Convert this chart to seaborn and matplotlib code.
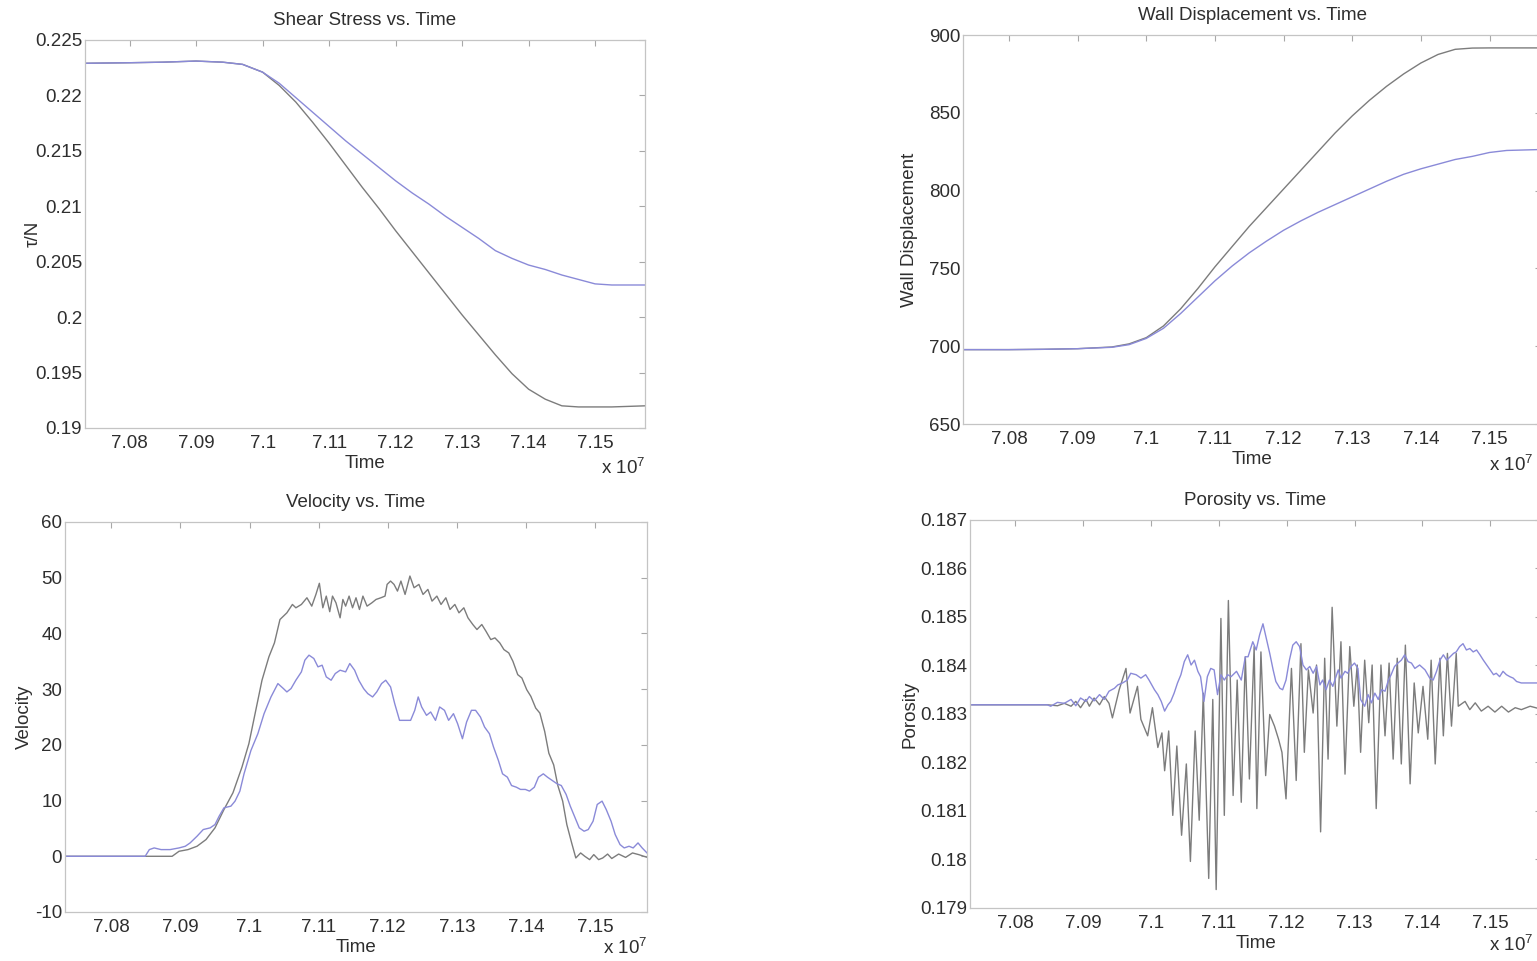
import matplotlib
matplotlib.use("Agg")
import matplotlib.pyplot as plt
import seaborn as sns
from matplotlib.ticker import FixedLocator, FuncFormatter

# ---------------------------------------------------------------
# Time axis values are given in units of 1e7 (as on the tick labels)
# Two simulation runs per quantity: case 1 (gray), case 2 (blue)
# ---------------------------------------------------------------

shear_time = [7.0733, 7.080, 7.085, 7.090, 7.094, 7.097, 7.100, 7.1025, 7.105,
              7.1075, 7.110, 7.1125, 7.115, 7.1175, 7.120, 7.1225, 7.125, 7.1275,
              7.130, 7.1325, 7.135, 7.1375, 7.140, 7.1425, 7.145, 7.1475, 7.150,
              7.1525, 7.1575]
shear_case1 = [0.2229, 0.22295, 0.2230, 0.2231, 0.2230, 0.2228, 0.2221, 0.2209,
               0.2194, 0.2176, 0.2157, 0.2137, 0.2117, 0.2098, 0.2078, 0.2059,
               0.2040, 0.2021, 0.2002, 0.1984, 0.1966, 0.1949, 0.1935, 0.1926,
               0.1920, 0.1919, 0.1919, 0.1919, 0.1920]
shear_case2 = [0.2229, 0.22295, 0.2230, 0.2231, 0.2230, 0.2228, 0.2221, 0.2211,
               0.2198, 0.2185, 0.2172, 0.2159, 0.2147, 0.2135, 0.2123, 0.2112,
               0.2102, 0.2091, 0.2081, 0.2071, 0.2060, 0.2053, 0.2047, 0.2043,
               0.2038, 0.2034, 0.2030, 0.2029, 0.2029]

wall_time = [7.0733, 7.080, 7.085, 7.090, 7.095, 7.0975, 7.100, 7.1025, 7.105,
             7.1075, 7.110, 7.1125, 7.115, 7.1175, 7.120, 7.1225, 7.125, 7.1275,
             7.130, 7.1325, 7.135, 7.1375, 7.140, 7.1425, 7.145, 7.1475, 7.150,
             7.1525, 7.1575]
wall_case1 = [697.8, 697.8, 698.0, 698.4, 699.5, 701.5, 705.5, 713.0, 724.0,
              737.0, 751.0, 764.0, 777.0, 789.0, 801.0, 813.0, 825.0, 837.0,
              848.0, 858.0, 867.0, 875.0, 882.0, 887.5, 890.8, 891.6, 891.7,
              891.7, 891.7]
wall_case2 = [697.8, 697.8, 698.0, 698.4, 699.3, 701.0, 705.0, 711.5, 721.0,
              731.5, 742.0, 751.5, 760.0, 767.5, 774.5, 780.5, 786.0, 791.0,
              796.0, 801.0, 806.0, 810.5, 814.0, 817.0, 820.0, 822.0, 824.5,
              825.8, 826.4]

vel_time_case1 = [7.0732, 7.0888, 7.0898, 7.0911, 7.0924, 7.0937, 7.0950, 7.0963,
                  7.0976, 7.0989, 7.0999, 7.1008, 7.1018, 7.1028, 7.1036, 7.1044,
                  7.1054, 7.1062, 7.1067, 7.1075, 7.1083, 7.1090, 7.1096, 7.1101,
                  7.1106, 7.1111, 7.1116, 7.1120, 7.1125, 7.1131, 7.1135, 7.1139,
                  7.1144, 7.1149, 7.1154, 7.1159, 7.1164, 7.1170, 7.1177, 7.1183,
                  7.1190, 7.1196, 7.1199, 7.1204, 7.1209, 7.1214, 7.1219, 7.1225,
                  7.1232, 7.1238, 7.1245, 7.1251, 7.1258, 7.1264, 7.1271, 7.1277,
                  7.1284, 7.1290, 7.1297, 7.1303, 7.1310, 7.1316, 7.1323, 7.1329,
                  7.1336, 7.1342, 7.1349, 7.1355, 7.1362, 7.1368, 7.1375, 7.1381,
                  7.1388, 7.1394, 7.1401, 7.1407, 7.1414, 7.1420, 7.1427, 7.1433,
                  7.1440, 7.1446, 7.1453, 7.1459, 7.1466, 7.1472, 7.1479, 7.1485,
                  7.1492, 7.1498, 7.1505, 7.1511, 7.1518, 7.1524, 7.1534, 7.1544,
                  7.1554, 7.1563, 7.1578]
vel_case1 = [0.0, 0.0, 0.9, 1.2, 1.8, 3.0, 5.1, 8.4,
             11.4, 16.0, 20.2, 25.6, 31.6, 35.8, 38.3, 42.5,
             43.7, 45.2, 44.6, 45.2, 46.4, 44.9, 47.0, 49.0,
             44.6, 46.7, 43.9, 46.7, 45.5, 42.8, 46.1, 44.9,
             46.7, 44.6, 46.4, 44.3, 46.7, 44.9, 45.5, 46.1,
             46.4, 46.7, 48.8, 49.4, 48.8, 47.6, 49.4, 47.0,
             50.3, 48.2, 48.8, 47.0, 47.9, 45.8, 46.7, 45.2,
             46.4, 44.3, 45.2, 43.7, 44.6, 42.8, 41.6, 40.7,
             41.6, 40.4, 38.9, 39.2, 38.3, 37.1, 36.5, 35.0,
             32.6, 32.0, 29.9, 28.7, 26.6, 25.7, 22.4, 18.5,
             16.4, 12.7, 9.9, 5.7, 2.4, -0.3, 0.6, 0.0,
             -0.6, 0.3, -0.6, -0.3, 0.4, -0.4, 0.4, -0.2,
             0.6, 0.3, -0.3]

vel_time_case2 = [7.0732, 7.0849, 7.0855, 7.0862, 7.0872, 7.0885, 7.0898, 7.0907,
                  7.0914, 7.0924, 7.0933, 7.0943, 7.0950, 7.0956, 7.0963, 7.0973,
                  7.0979, 7.0986, 7.0992, 7.1002, 7.1012, 7.1021, 7.1031, 7.1041,
                  7.1049, 7.1054, 7.1060, 7.1067, 7.1075, 7.1080, 7.1086, 7.1093,
                  7.1099, 7.1105, 7.1111, 7.1118, 7.1124, 7.1131, 7.1139, 7.1145,
                  7.1152, 7.1158, 7.1165, 7.1171, 7.1178, 7.1184, 7.1191, 7.1197,
                  7.1204, 7.1210, 7.1217, 7.1226, 7.1233, 7.1239, 7.1244, 7.1249,
                  7.1256, 7.1262, 7.1269, 7.1275, 7.1282, 7.1288, 7.1295, 7.1301,
                  7.1308, 7.1314, 7.1321, 7.1327, 7.1334, 7.1340, 7.1347, 7.1353,
                  7.1360, 7.1366, 7.1373, 7.1379, 7.1386, 7.1392, 7.1399, 7.1405,
                  7.1412, 7.1418, 7.1425, 7.1431, 7.1438, 7.1445, 7.1451, 7.1458,
                  7.1464, 7.1471, 7.1477, 7.1484, 7.1490, 7.1497, 7.1503, 7.1510,
                  7.1516, 7.1523, 7.1529, 7.1536, 7.1542, 7.1549, 7.1555, 7.1562,
                  7.1568, 7.1575, 7.1580]
vel_case2 = [0.0, 0.0, 1.2, 1.5, 1.2, 1.2, 1.5, 1.8,
             2.4, 3.6, 4.8, 5.1, 5.7, 7.2, 8.7, 9.0,
             9.9, 11.7, 14.8, 19.0, 22.0, 25.6, 28.6, 31.0,
             30.1, 29.5, 30.1, 31.6, 33.1, 35.2, 36.1, 35.5,
             34.0, 34.3, 32.2, 31.6, 32.8, 33.4, 33.1, 34.6,
             33.4, 31.6, 30.1, 29.2, 28.6, 29.5, 31.0, 31.6,
             30.4, 27.4, 24.4, 24.4, 24.4, 26.2, 28.6, 26.8,
             25.3, 25.9, 24.4, 26.8, 26.2, 24.4, 25.6, 23.8,
             21.1, 24.1, 26.2, 26.2, 25.0, 23.2, 22.0, 19.6,
             17.2, 14.8, 14.2, 12.7, 12.4, 12.0, 12.0, 11.7,
             12.4, 14.2, 14.8, 14.2, 13.6, 13.0, 12.7, 11.1,
             9.0, 6.9, 5.1, 4.5, 4.8, 6.3, 9.3, 9.9,
             8.4, 6.3, 3.9, 2.1, 1.5, 1.8, 1.5, 2.4,
             1.5, 0.6, 0.0]

por_time_case1 = [7.0732, 7.0847, 7.0862, 7.0872, 7.0882, 7.0889, 7.0896, 7.0904,
                  7.0909, 7.0916, 7.0924, 7.0931, 7.0938, 7.0943, 7.0953, 7.0963,
                  7.0969, 7.0980, 7.0985, 7.0995, 7.1002, 7.1010, 7.1016, 7.1020,
                  7.1026, 7.1032, 7.1038, 7.1045, 7.1052, 7.1058, 7.1065, 7.1071,
                  7.1077, 7.1085, 7.1091, 7.1096, 7.1103, 7.1108, 7.1114, 7.1121,
                  7.1127, 7.1133, 7.1139, 7.1145, 7.1152, 7.1156, 7.1162, 7.1169,
                  7.1175, 7.1182, 7.1188, 7.1193, 7.1199, 7.1207, 7.1214, 7.1221,
                  7.1226, 7.1232, 7.1239, 7.1244, 7.1250, 7.1256, 7.1261, 7.1267,
                  7.1274, 7.1280, 7.1286, 7.1293, 7.1299, 7.1304, 7.1309, 7.1315,
                  7.1321, 7.1326, 7.1332, 7.1339, 7.1345, 7.1351, 7.1357, 7.1363,
                  7.1369, 7.1375, 7.1382, 7.1388, 7.1394, 7.1401, 7.1408, 7.1413,
                  7.1419, 7.1426, 7.1431, 7.1437, 7.1443, 7.1450, 7.1453, 7.1463,
                  7.1470, 7.1478, 7.1487, 7.1497, 7.1507, 7.1517, 7.1527, 7.1537,
                  7.1546, 7.1559, 7.1575]
por_case1 = [0.18319, 0.18319, 0.18317, 0.18322, 0.18316, 0.18326, 0.18313, 0.18330,
             0.18316, 0.18333, 0.18319, 0.18336, 0.18322, 0.18292, 0.18350, 0.18394,
             0.18302, 0.18357, 0.18289, 0.18255, 0.18313, 0.18231, 0.18261, 0.18183,
             0.18265, 0.18091, 0.18234, 0.18050, 0.18197, 0.17996, 0.18265, 0.18081,
             0.18343, 0.17961, 0.18330, 0.17938, 0.18497, 0.18091, 0.18534, 0.18132,
             0.18370, 0.18118, 0.18418, 0.18166, 0.18439, 0.18105, 0.18428, 0.18173,
             0.18299, 0.18275, 0.18248, 0.18221, 0.18125, 0.18394, 0.18163, 0.18445,
             0.18221, 0.18391, 0.18302, 0.18401, 0.18057, 0.18415, 0.18207, 0.18520,
             0.18275, 0.18449, 0.18176, 0.18439, 0.18316, 0.18401, 0.18221, 0.18411,
             0.18282, 0.18401, 0.18105, 0.18401, 0.18255, 0.18405, 0.18207, 0.18415,
             0.18197, 0.18442, 0.18156, 0.18364, 0.18261, 0.18357, 0.18248, 0.18411,
             0.18197, 0.18415, 0.18255, 0.18425, 0.18275, 0.18425, 0.18316, 0.18326,
             0.18309, 0.18323, 0.18306, 0.18316, 0.18304, 0.18316, 0.18304, 0.18313,
             0.18309, 0.18316, 0.18310]

por_time_case2 = [7.0732, 7.0847, 7.0852, 7.0862, 7.0872, 7.0882, 7.0889, 7.0896,
                  7.0904, 7.0909, 7.0916, 7.0924, 7.0931, 7.0938, 7.0946, 7.0951,
                  7.0958, 7.0965, 7.0970, 7.0978, 7.0985, 7.0992, 7.0997, 7.1005,
                  7.1010, 7.1015, 7.1020, 7.1025, 7.1029, 7.1034, 7.1039, 7.1044,
                  7.1049, 7.1054, 7.1059, 7.1064, 7.1069, 7.1073, 7.1078, 7.1083,
                  7.1088, 7.1093, 7.1098, 7.1103, 7.1108, 7.1113, 7.1118, 7.1126,
                  7.1133, 7.1139, 7.1143, 7.1150, 7.1155, 7.1160, 7.1165, 7.1170,
                  7.1175, 7.1180, 7.1184, 7.1190, 7.1194, 7.1199, 7.1204, 7.1209,
                  7.1214, 7.1219, 7.1224, 7.1229, 7.1234, 7.1239, 7.1244, 7.1249,
                  7.1253, 7.1258, 7.1263, 7.1268, 7.1276, 7.1280, 7.1286, 7.1290,
                  7.1295, 7.1300, 7.1305, 7.1309, 7.1315, 7.1320, 7.1325, 7.1330,
                  7.1335, 7.1340, 7.1345, 7.1350, 7.1354, 7.1359, 7.1364, 7.1369,
                  7.1374, 7.1379, 7.1384, 7.1389, 7.1396, 7.1404, 7.1411, 7.1416,
                  7.1421, 7.1426, 7.1431, 7.1436, 7.1441, 7.1446, 7.1450, 7.1455,
                  7.1460, 7.1465, 7.1470, 7.1475, 7.1480, 7.1485, 7.1490, 7.1495,
                  7.1500, 7.1505, 7.1509, 7.1514, 7.1519, 7.1524, 7.1529, 7.1534,
                  7.1539, 7.1546, 7.1556, 7.1575]
por_case2 = [0.18319, 0.18319, 0.18316, 0.18324, 0.18322, 0.18330, 0.18317, 0.18333,
             0.18326, 0.18336, 0.18327, 0.18340, 0.18330, 0.18347, 0.18353, 0.18360,
             0.18364, 0.18370, 0.18384, 0.18381, 0.18374, 0.18381, 0.18370, 0.18350,
             0.18340, 0.18326, 0.18306, 0.18319, 0.18326, 0.18343, 0.18364, 0.18381,
             0.18408, 0.18422, 0.18401, 0.18411, 0.18388, 0.18377, 0.18326, 0.18377,
             0.18394, 0.18391, 0.18340, 0.18381, 0.18370, 0.18381, 0.18377, 0.18388,
             0.18370, 0.18418, 0.18418, 0.18449, 0.18432, 0.18463, 0.18486, 0.18456,
             0.18425, 0.18391, 0.18367, 0.18353, 0.18350, 0.18370, 0.18411, 0.18442,
             0.18449, 0.18439, 0.18401, 0.18391, 0.18398, 0.18384, 0.18398, 0.18360,
             0.18370, 0.18350, 0.18370, 0.18357, 0.18391, 0.18374, 0.18388, 0.18384,
             0.18398, 0.18405, 0.18394, 0.18330, 0.18316, 0.18340, 0.18323, 0.18343,
             0.18330, 0.18350, 0.18347, 0.18370, 0.18381, 0.18398, 0.18405, 0.18411,
             0.18422, 0.18408, 0.18405, 0.18394, 0.18401, 0.18391, 0.18374, 0.18370,
             0.18388, 0.18411, 0.18422, 0.18411, 0.18418, 0.18425, 0.18428, 0.18439,
             0.18445, 0.18432, 0.18435, 0.18428, 0.18432, 0.18422, 0.18411, 0.18401,
             0.18391, 0.18381, 0.18384, 0.18377, 0.18388, 0.18381, 0.18377, 0.18374,
             0.18367, 0.18364, 0.18364, 0.18364]

time_ticks = [7.08, 7.09, 7.10, 7.11, 7.12, 7.13, 7.14, 7.15]
shear_ticks = [0.19, 0.195, 0.20, 0.205, 0.21, 0.215, 0.22, 0.225]
wall_ticks = [650, 700, 750, 800, 850, 900]
vel_ticks = [-10, 0, 10, 20, 30, 40, 50, 60]
por_ticks = [0.179, 0.180, 0.181, 0.182, 0.183, 0.184, 0.185, 0.186, 0.187]

# ---------------------------------------------------------------
sns.set_style("white")
plt.rcParams["font.family"] = ["Liberation Sans", "DejaVu Sans"]
plt.rcParams["mathtext.fontset"] = "custom"
plt.rcParams["mathtext.rm"] = "Liberation Sans"
plt.rcParams["mathtext.default"] = "regular"

GRAY = "#7c7c7c"
BLUE = "#8a8ad8"
SPINE = "#c4c4c4"
TEXT = "#2e2e2e"
FS = 13.5
W, H = 1537, 961

fig = plt.figure(figsize=(W / 100, H / 100), dpi=100, facecolor="white")


def px_axes(left, top, right, bottom):
    return fig.add_axes([left / W, 1 - bottom / H, (right - left) / W, (bottom - top) / H])


def g(v):
    return f"{round(v, 6):g}"


def panel(ax, title, ylabel, t1, y1, t2, y2, yticks, ylim, ylab_x):
    sns.lineplot(x=[t * 1e7 for t in t1], y=y1, ax=ax, color=GRAY, linewidth=1.0,
                 estimator=None, sort=False)
    sns.lineplot(x=[t * 1e7 for t in t2], y=y2, ax=ax, color=BLUE, linewidth=1.0,
                 estimator=None, sort=False)
    ax.set_xlim(7.0733e7, 7.1575e7)
    ax.set_ylim(*ylim)
    ax.xaxis.set_major_locator(FixedLocator([t * 1e7 for t in time_ticks]))
    ax.xaxis.set_major_formatter(FuncFormatter(lambda v, p: g(v / 1e7)))
    ax.yaxis.set_major_locator(FixedLocator(yticks))
    ax.yaxis.set_major_formatter(FuncFormatter(lambda v, p: g(v)))
    ax.tick_params(axis="both", direction="in", length=4, width=0.8, color="#a8a8a8",
                   top=True, right=True, labelsize=FS, labelcolor=TEXT)
    ax.tick_params(axis="x", pad=5)
    ax.tick_params(axis="y", pad=2)
    for s in ax.spines.values():
        s.set_color(SPINE)
        s.set_linewidth(0.9)
    ax.set_title(title, fontsize=FS, color=TEXT, pad=11)
    ax.set_xlabel("Time", fontsize=FS, color=TEXT, labelpad=2)
    ax.set_ylabel(ylabel, fontsize=FS, color=TEXT)
    ax.yaxis.set_label_coords(ylab_x, 0.5)


ax1 = px_axes(85, 40, 645, 428)
panel(ax1, "Shear Stress vs. Time", "τ/N", shear_time, shear_case1, shear_time,
      shear_case2, shear_ticks, (0.19, 0.225), -0.078)

ax2 = px_axes(963, 35, 1541, 424)
panel(ax2, "Wall Displacement vs. Time", "Wall Displacement", wall_time, wall_case1,
      wall_time, wall_case2, wall_ticks, (650, 900), -0.078)

ax3 = px_axes(65, 522, 647, 912)
panel(ax3, "Velocity vs. Time", "Velocity", vel_time_case1, vel_case1, vel_time_case2,
      vel_case2, vel_ticks, (-10, 60), -0.055)

ax4 = px_axes(970, 520, 1541, 908)
panel(ax4, "Porosity vs. Time", "Porosity", por_time_case1, por_case1, por_time_case2,
      por_case2, por_ticks, (0.179, 0.187), -0.09)

# exponent notes for the time axis
for x, y in [(645, 474), (1533, 471), (647, 954), (1533, 951)]:
    fig.text(x / W, 1 - y / H, "x 10$^{7}$", fontsize=FS, color=TEXT, ha="right",
             va="baseline")

fig.savefig("out.png", dpi=100, facecolor="white")
